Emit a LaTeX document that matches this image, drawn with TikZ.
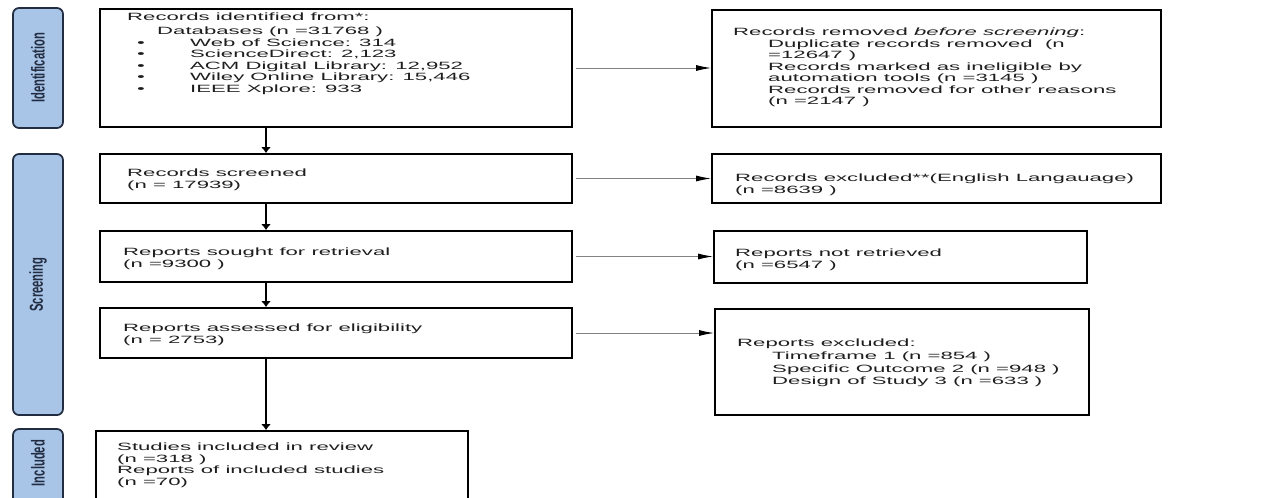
\documentclass[tikz,border=0pt]{standalone}
\usepackage{fontspec}
\setmainfont[FakeStretch=2.1]{Liberation Sans}
\newfontfamily\stagefont[FakeStretch=0.6]{Liberation Sans}
\usetikzlibrary{arrows.meta, fit}
\definecolor{stageblue}{RGB}{168,197,232}
\definecolor{stageline}{RGB}{35,45,65}
\definecolor{inkgray}{RGB}{30,30,30}
\definecolor{linkgray}{RGB}{130,130,130}
\tikzstyle{box} = [draw=black, line width=1.6pt, inner sep=0pt]
\tikzstyle{stage} = [draw=stageline, fill=stageblue, line width=1.5pt, rounded corners=0.18cm, inner sep=0pt]
\tikzstyle{stagetext} = [rotate=90, inner sep=0pt, text=stageline, font=\stagefont\bfseries\fontsize{16}{16}\selectfont]
\tikzstyle{txt} = [anchor=north west, inner sep=0pt, align=left, text=inkgray, font=\fontsize{9}{9.8}\selectfont]
\tikzstyle{down} = [line width=1pt, -{Latex[length=0.18cm,width=0.3cm]}]
\tikzstyle{across} = [line width=0.8pt, draw=linkgray, shorten <=0.1cm, -{Latex[length=0.45cm,width=0.18cm,color=black]}]
\newcommand{\dbitem}[1]{\hspace*{0.3cm}\makebox[1.59cm][l]{\textbullet}#1}

\begin{document}
\begin{tikzpicture}[x=0.03cm, y=-0.03cm]
\useasboundingbox (0,0) rectangle (1288,497);
\coordinate (spine) at (266,0);

% phases on the left
\node[stage, fit={(13,8) (63,128)}] (idStage) {};
\node[stage, fit={(13,154) (63,415)}] (scrStage) {};
\node[stage, fit={(13,429) (63,510)}] (incStage) {};
\node[stagetext] (idLabel) at (idStage.center) {Identification};
\node[stagetext] (scrLabel) at (scrStage.center) {Screening};
\node[stagetext] (incLabel) at (38,463) {Included};

% main column
\node[box, fit={(100,9) (572,127)}] (recId) {};
\node[box, fit={(100,154) (572,203)}] (recScr) {};
\node[box, fit={(100,231) (572,282)}] (repSought) {};
\node[box, fit={(100,308) (572,358)}] (repAss) {};
\node[box, fit={(96,431) (468,510)}] (studInc) {};

\node[txt] (recIdTxt) at (127,13) {Records identified from*:\\[2pt]
\hspace*{0.9cm}Databases (n =31768 )\\
\dbitem{Web of Science: 314}\\
\dbitem{ScienceDirect: 2,123}\\
\dbitem{ACM Digital Library: 12,952}\\
\dbitem{Wiley Online Library: 15,446}\\
\dbitem{IEEE Xplore: 933}};
\node[txt] (recScrTxt) at (127,169) {Records screened\\(n = 17939)};
\node[txt] (repSoughtTxt) at (123,248) {Reports sought for retrieval\\(n =9300 )};
\node[txt] (repAssTxt) at (123,324) {Reports assessed for eligibility\\(n = 2753)};
\node[txt] (studIncTxt) at (117,443) {Studies included in review\\(n =318 )\\Reports of included studies\\(n =70)};

% right column
\node[box, fit={(712,10) (1161,127)}] (recRem) {};
\node[box, fit={(712,154) (1161,203)}] (recExc) {};
\node[box, fit={(714,231) (1087,283)}] (repNot) {};
\node[box, fit={(715,309) (1089,415)}] (repExc) {};

\node[txt] (recRemTxt) at (733,28) {Records removed \textit{before screening}:\\
\hspace*{1.05cm}Duplicate records removed\ \ (n\\
\hspace*{1.05cm}=12647 )\\
\hspace*{1.05cm}Records marked as ineligible by\\
\hspace*{1.05cm}automation tools (n =3145 )\\
\hspace*{1.05cm}Records removed for other reasons\\
\hspace*{1.05cm}(n =2147 )};
\node[txt] (recExcTxt) at (735,174) {Records excluded**(English Langauage)\\(n =8639 )};
\node[txt] (repNotTxt) at (735,249) {Reports not retrieved\\(n =6547 )};
\node[txt] (repExcTxt) at (737,339) {Reports excluded:\\[1pt]
\hspace*{1.05cm}Timeframe 1 (n =854 )\\[1pt]
\hspace*{1.05cm}Specific Outcome 2 (n =948 )\\[1pt]
\hspace*{1.05cm}Design of Study 3 (n =633 )};

% flow
\draw[down] (recId.south -| spine) -- (recScr.north -| spine);
\draw[down] (recScr.south -| spine) -- (repSought.north -| spine);
\draw[down] (repSought.south -| spine) -- (repAss.north -| spine);
\draw[down] (repAss.south -| spine) -- (studInc.north -| spine);
\draw[across] (recId.east) -- (recId.east -| recRem.west);
\draw[across] (recScr.east) -- (recScr.east -| recExc.west);
\draw[across] (repSought.east) -- (repSought.east -| repNot.west);
\draw[across] (repAss.east) -- (repAss.east -| repExc.west);
\end{tikzpicture}
\end{document}
